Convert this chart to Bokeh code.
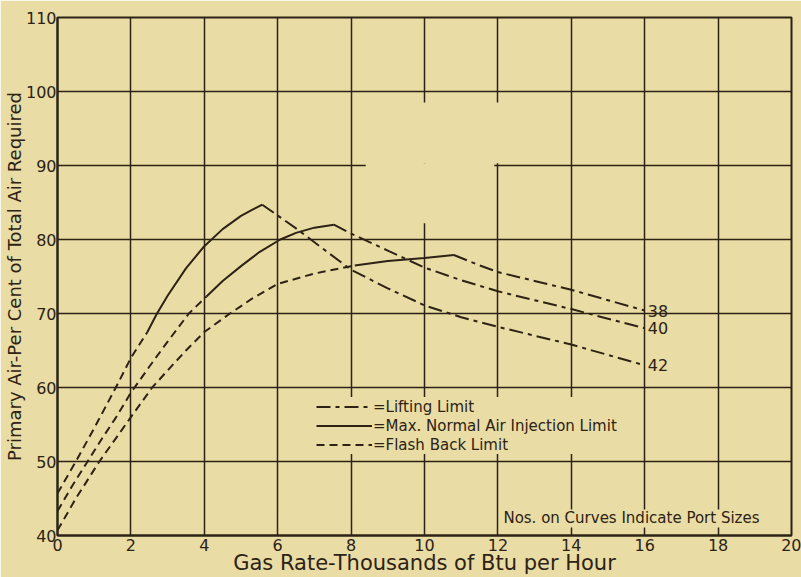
from bokeh.plotting import figure
from bokeh.models import (Label, BoxAnnotation, FixedTicker, Legend, LegendItem,
                          ColumnDataSource, Range1d)
from bokeh.embed import file_html
from bokeh.resources import INLINE
from bokeh.core.properties import value

# ---------------- data ----------------
X_TICKS = [0, 2, 4, 6, 8, 10, 12, 14, 16, 18, 20]
Y_TICKS = [40, 50, 60, 70, 80, 90, 100, 110]
PORT_SIZES = ["42", "40", "38"]
X_TITLE = "Gas Rate-Thousands of Btu per Hour"
Y_TITLE = "Primary Air-Per Cent of Total Air Required"

# Port 42
FLASH_42_X = [0, 0.5, 1.0, 1.59, 2.0, 2.45]
FLASH_42_Y = [45.7, 50, 54.5, 60, 64, 67.5]
NORMAL_42_X = [2.45, 2.7, 3.0, 3.5, 4.0, 4.5, 5.0, 5.3, 5.58]
NORMAL_42_Y = [67.5, 69.9, 72.4, 76.1, 79.1, 81.4, 83.2, 84.0, 84.7]
LIFT_42_X = [5.58, 6.5, 8.0, 9.0, 10.0, 11.0, 12.0, 13.0, 14.0, 15.0, 16.0]
LIFT_42_Y = [84.7, 81.5, 75.9, 73.4, 71.1, 69.5, 68.2, 67.0, 65.8, 64.4, 63.0]

# Port 40
FLASH_40_X = [0, 0.4, 0.82, 1.2, 1.6, 2.0, 2.5, 3.0, 3.58, 4.06]
FLASH_40_Y = [43.3, 46.7, 50, 53, 56, 59.3, 62.8, 66.2, 70, 72.3]
NORMAL_40_X = [4.06, 4.5, 5.0, 5.5, 6.07, 6.5, 7.0, 7.53]
NORMAL_40_Y = [72.3, 74.4, 76.4, 78.3, 80.0, 80.9, 81.6, 82.0]
LIFT_40_X = [7.53, 8.0, 9.0, 10.0, 11.0, 12.0, 13.0, 14.0, 15.0, 16.0]
LIFT_40_Y = [82.0, 80.8, 78.5, 76.2, 74.5, 73.0, 71.8, 70.6, 69.3, 68.0]

# Port 38
FLASH_38_X = [0, 0.5, 1.14, 1.6, 2.0, 2.58, 3.0, 3.5, 4.0, 4.7, 5.3, 6.0, 7.0, 8.1]
FLASH_38_Y = [40.7, 45.0, 50, 53.2, 56, 60, 62.3, 65.0, 67.5, 70, 72.0, 74.0, 75.4, 76.5]
NORMAL_38_X = [8.1, 9.0, 10.0, 10.8]
NORMAL_38_Y = [76.5, 77.1, 77.5, 77.9]
LIFT_38_X = [10.8, 11.5, 12.0, 13.0, 14.0, 15.0, 16.0]
LIFT_38_Y = [77.9, 76.5, 75.6, 74.4, 73.2, 71.8, 70.4]

# ---------------- styling ----------------
PAPER = "#E9DCA4"
INK = "#2D2215"
FONT = "DejaVu Sans"
FLASH_DASH = "8 5"
LIFT_DASH = "14 5 4 5"

p = figure(width=801, height=577, title=None,
           x_range=Range1d(0, 20), y_range=Range1d(40, 110),
           output_backend="svg", toolbar_location=None,
           min_border_left=53, min_border_right=10,
           min_border_top=17, min_border_bottom=42)

p.background_fill_color = PAPER
p.border_fill_color = PAPER
p.outline_line_color = INK
p.outline_line_width = 2

p.xaxis.ticker = FixedTicker(ticks=X_TICKS)
p.yaxis.ticker = FixedTicker(ticks=Y_TICKS)
p.xgrid.ticker = FixedTicker(ticks=X_TICKS)
p.ygrid.ticker = FixedTicker(ticks=Y_TICKS)
for g in (p.xgrid, p.ygrid):
    g.grid_line_color = INK
    g.grid_line_width = 1.5
    g.grid_line_alpha = 1

for ax in (p.xaxis, p.yaxis):
    ax.axis_line_color = INK
    ax.axis_line_width = 2
    ax.major_tick_line_color = None
    ax.minor_tick_line_color = None
    ax.major_tick_out = 0
    ax.major_tick_in = 0
    ax.minor_tick_out = 0
    ax.minor_tick_in = 0
    ax.major_label_text_font = FONT
    ax.major_label_text_font_size = "16px"
    ax.major_label_text_color = INK
    ax.axis_label_text_font = FONT
    ax.axis_label_text_font_style = "normal"
    ax.axis_label_text_color = INK

p.xaxis.axis_label = X_TITLE
p.yaxis.axis_label = Y_TITLE
p.xaxis.axis_label_text_font_size = "21px"
p.yaxis.axis_label_text_font_size = "18px"
p.xaxis.major_label_standoff = 3
p.xaxis.axis_label_standoff = -3
p.yaxis.major_label_standoff = 1
p.yaxis.axis_label_standoff = -2

# blank patch of the original grid
p.add_layout(BoxAnnotation(left=8.4, right=11.9, bottom=82.2, top=90.3,
                           fill_color=PAPER, fill_alpha=1, line_alpha=0))
p.add_layout(BoxAnnotation(left=8.4, right=12.12, bottom=90.3, top=98.5,
                           fill_color=PAPER, fill_alpha=1, line_alpha=0))

curves = [
    (FLASH_42_X, FLASH_42_Y, NORMAL_42_X, NORMAL_42_Y, LIFT_42_X, LIFT_42_Y),
    (FLASH_40_X, FLASH_40_Y, NORMAL_40_X, NORMAL_40_Y, LIFT_40_X, LIFT_40_Y),
    (FLASH_38_X, FLASH_38_Y, NORMAL_38_X, NORMAL_38_Y, LIFT_38_X, LIFT_38_Y),
]
legend_renderers = None
end_x, end_y = [], []
for fx, fy, nx, ny, lx, ly in curves:
    rf = p.line(fx, fy, line_color=INK, line_width=2, line_dash=FLASH_DASH)
    rn = p.line(nx, ny, line_color=INK, line_width=2)
    rl = p.line(lx, ly, line_color=INK, line_width=2, line_dash=LIFT_DASH)
    if legend_renderers is None:
        legend_renderers = (rl, rn, rf)
    end_x.append(lx[-1])
    end_y.append(ly[-1])

src = ColumnDataSource(dict(x=end_x, y=end_y, t=PORT_SIZES))
p.text(x="x", y="y", text="t", source=src, x_offset=3, text_baseline="middle",
       text_align="left", text_font=value(FONT), text_font_size="16px",
       text_color=INK)

legend = Legend(items=[
    LegendItem(label=value("=Lifting Limit"), renderers=[legend_renderers[0]]),
    LegendItem(label=value("=Max. Normal Air Injection Limit"), renderers=[legend_renderers[1]]),
    LegendItem(label=value("=Flash Back Limit"), renderers=[legend_renderers[2]]),
], location=(259, 81), orientation="vertical", glyph_width=56, glyph_height=19,
    label_height=19, spacing=0, padding=0, margin=0, label_standoff=1,
    border_line_alpha=0, background_fill_color=PAPER, background_fill_alpha=1,
    label_text_font=FONT, label_text_font_size="15px", label_text_color=INK)
p.add_layout(legend)

p.add_layout(Label(x=12.15, y=42.3, text="Nos. on Curves Indicate Port Sizes",
                   text_baseline="middle", text_align="left", text_font=FONT,
                   text_font_size="15px", text_color=INK,
                   background_fill_color=PAPER, background_fill_alpha=1))

open("out.html", "w").write(file_html(p, INLINE))
